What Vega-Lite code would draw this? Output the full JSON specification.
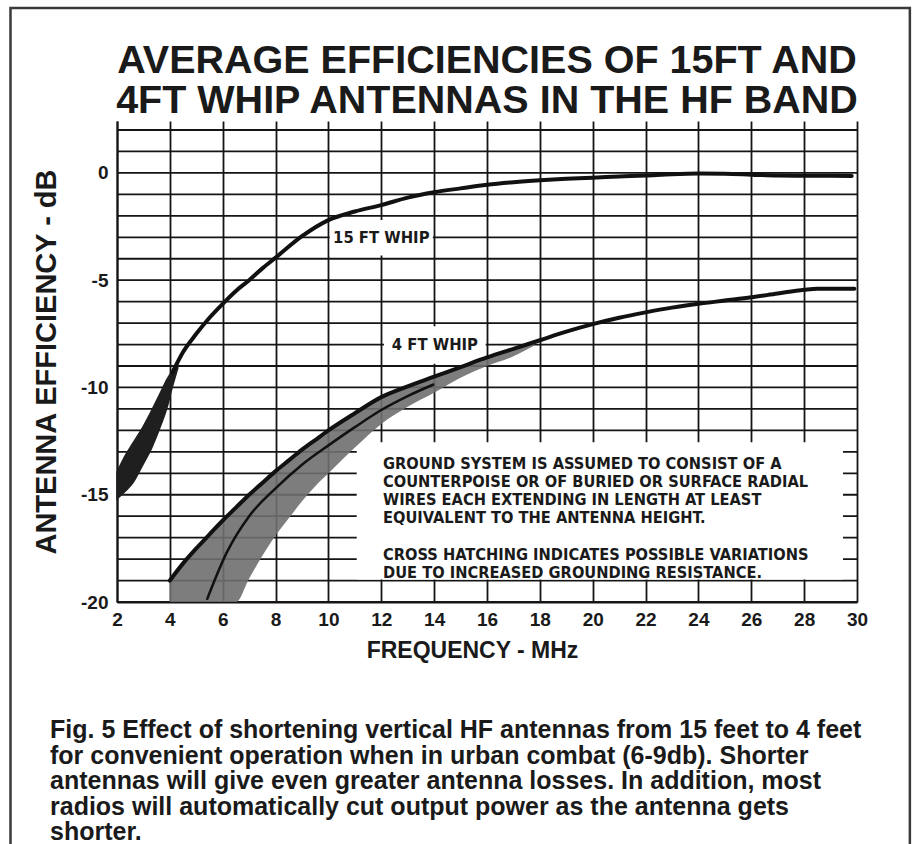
{
  "$schema": "https://vega.github.io/schema/vega-lite/v6.json",
  "width": 740,
  "height": 481,
  "autosize": "none",
  "padding": {"left": 117, "top": 121, "right": 61, "bottom": 242},
  "background": "white",
  "config": {"view": {"stroke": null}, "font": "Liberation Sans"},
  "data": {"values": [{"k": 1}]},
  "datasets": {
    "hgrid": [
      {"g": -20}, {"g": -19}, {"g": -18}, {"g": -17}, {"g": -16}, {"g": -15}, {"g": -14},
      {"g": -13}, {"g": -12}, {"g": -11}, {"g": -10}, {"g": -9}, {"g": -8}, {"g": -7},
      {"g": -6}, {"g": -5}, {"g": -4}, {"g": -3}, {"g": -2}, {"g": -1}, {"g": 0}, {"g": 1}, {"g": 2}
    ],
    "band15": [
      {"f": 2.0, "hi": -13.95, "lo": -15.2},
      {"f": 2.3, "hi": -13.2, "lo": -14.85},
      {"f": 2.6, "hi": -12.6, "lo": -14.45},
      {"f": 3.0, "hi": -11.8, "lo": -13.55},
      {"f": 3.3, "hi": -11.1, "lo": -12.85},
      {"f": 3.6, "hi": -10.35, "lo": -11.95},
      {"f": 3.9, "hi": -9.6, "lo": -10.9},
      {"f": 4.1, "hi": -9.2, "lo": -9.95},
      {"f": 4.3, "hi": -8.8, "lo": -9.1}
    ],
    "band4": [
      {"f": 4.0, "hi": -19.0, "lo": -20.0},
      {"f": 4.5, "hi": -18.2, "lo": -20.0},
      {"f": 5.0, "hi": -17.5, "lo": -20.0},
      {"f": 5.5, "hi": -16.85, "lo": -20.0},
      {"f": 6.0, "hi": -16.2, "lo": -20.0},
      {"f": 6.5, "hi": -15.6, "lo": -20.0},
      {"f": 7.0, "hi": -15.0, "lo": -18.9},
      {"f": 7.5, "hi": -14.45, "lo": -17.85},
      {"f": 8.0, "hi": -13.9, "lo": -16.9},
      {"f": 8.5, "hi": -13.4, "lo": -16.1},
      {"f": 9.0, "hi": -12.9, "lo": -15.3},
      {"f": 9.5, "hi": -12.45, "lo": -14.6},
      {"f": 10.0, "hi": -12.0, "lo": -14.0},
      {"f": 11.0, "hi": -11.2, "lo": -12.8},
      {"f": 12.0, "hi": -10.45, "lo": -11.7},
      {"f": 13.0, "hi": -9.95, "lo": -10.9},
      {"f": 14.0, "hi": -9.5, "lo": -10.25},
      {"f": 15.0, "hi": -9.05, "lo": -9.55},
      {"f": 16.0, "hi": -8.6, "lo": -9.0},
      {"f": 17.0, "hi": -8.2, "lo": -8.55},
      {"f": 17.8, "hi": -7.9, "lo": -8.05}
    ],
    "curves": [
      {"series": "15 FT WHIP", "f": 4.1, "db": -9.3},
      {"series": "15 FT WHIP", "f": 4.5, "db": -8.35},
      {"series": "15 FT WHIP", "f": 5.0, "db": -7.5},
      {"series": "15 FT WHIP", "f": 5.5, "db": -6.75},
      {"series": "15 FT WHIP", "f": 6.0, "db": -6.1},
      {"series": "15 FT WHIP", "f": 6.5, "db": -5.5},
      {"series": "15 FT WHIP", "f": 7.0, "db": -5.0},
      {"series": "15 FT WHIP", "f": 7.5, "db": -4.45},
      {"series": "15 FT WHIP", "f": 8.0, "db": -3.95},
      {"series": "15 FT WHIP", "f": 9.0, "db": -2.95},
      {"series": "15 FT WHIP", "f": 10.0, "db": -2.2},
      {"series": "15 FT WHIP", "f": 11.0, "db": -1.8},
      {"series": "15 FT WHIP", "f": 12.0, "db": -1.5},
      {"series": "15 FT WHIP", "f": 13.0, "db": -1.15},
      {"series": "15 FT WHIP", "f": 14.0, "db": -0.9},
      {"series": "15 FT WHIP", "f": 15.0, "db": -0.72},
      {"series": "15 FT WHIP", "f": 16.0, "db": -0.55},
      {"series": "15 FT WHIP", "f": 17.0, "db": -0.43},
      {"series": "15 FT WHIP", "f": 18.0, "db": -0.34},
      {"series": "15 FT WHIP", "f": 19.0, "db": -0.27},
      {"series": "15 FT WHIP", "f": 20.0, "db": -0.22},
      {"series": "15 FT WHIP", "f": 21.0, "db": -0.17},
      {"series": "15 FT WHIP", "f": 22.0, "db": -0.12},
      {"series": "15 FT WHIP", "f": 23.0, "db": -0.06},
      {"series": "15 FT WHIP", "f": 24.0, "db": -0.03},
      {"series": "15 FT WHIP", "f": 25.0, "db": -0.04},
      {"series": "15 FT WHIP", "f": 26.0, "db": -0.08},
      {"series": "15 FT WHIP", "f": 27.0, "db": -0.12},
      {"series": "15 FT WHIP", "f": 28.0, "db": -0.13},
      {"series": "15 FT WHIP", "f": 29.0, "db": -0.13},
      {"series": "15 FT WHIP", "f": 29.8, "db": -0.14},
      {"series": "4 FT WHIP", "f": 4.0, "db": -19.0},
      {"series": "4 FT WHIP", "f": 4.5, "db": -18.2},
      {"series": "4 FT WHIP", "f": 5.0, "db": -17.5},
      {"series": "4 FT WHIP", "f": 5.5, "db": -16.85},
      {"series": "4 FT WHIP", "f": 6.0, "db": -16.2},
      {"series": "4 FT WHIP", "f": 6.5, "db": -15.6},
      {"series": "4 FT WHIP", "f": 7.0, "db": -15.0},
      {"series": "4 FT WHIP", "f": 7.5, "db": -14.45},
      {"series": "4 FT WHIP", "f": 8.0, "db": -13.9},
      {"series": "4 FT WHIP", "f": 8.5, "db": -13.4},
      {"series": "4 FT WHIP", "f": 9.0, "db": -12.9},
      {"series": "4 FT WHIP", "f": 9.5, "db": -12.45},
      {"series": "4 FT WHIP", "f": 10.0, "db": -12.0},
      {"series": "4 FT WHIP", "f": 11.0, "db": -11.2},
      {"series": "4 FT WHIP", "f": 12.0, "db": -10.45},
      {"series": "4 FT WHIP", "f": 13.0, "db": -9.95},
      {"series": "4 FT WHIP", "f": 14.0, "db": -9.5},
      {"series": "4 FT WHIP", "f": 15.0, "db": -9.05},
      {"series": "4 FT WHIP", "f": 16.0, "db": -8.6},
      {"series": "4 FT WHIP", "f": 17.0, "db": -8.2},
      {"series": "4 FT WHIP", "f": 18.0, "db": -7.8},
      {"series": "4 FT WHIP", "f": 19.0, "db": -7.4},
      {"series": "4 FT WHIP", "f": 20.0, "db": -7.05},
      {"series": "4 FT WHIP", "f": 21.0, "db": -6.75},
      {"series": "4 FT WHIP", "f": 22.0, "db": -6.5},
      {"series": "4 FT WHIP", "f": 23.0, "db": -6.28},
      {"series": "4 FT WHIP", "f": 24.0, "db": -6.1},
      {"series": "4 FT WHIP", "f": 25.0, "db": -5.95},
      {"series": "4 FT WHIP", "f": 26.0, "db": -5.8},
      {"series": "4 FT WHIP", "f": 27.0, "db": -5.62},
      {"series": "4 FT WHIP", "f": 28.0, "db": -5.45},
      {"series": "4 FT WHIP", "f": 28.5, "db": -5.4},
      {"series": "4 FT WHIP", "f": 29.9, "db": -5.4},
      {"series": "inner", "f": 5.4, "db": -19.9},
      {"series": "inner", "f": 6.15, "db": -17.7},
      {"series": "inner", "f": 7.0, "db": -16.0},
      {"series": "inner", "f": 8.0, "db": -14.7},
      {"series": "inner", "f": 9.0, "db": -13.6},
      {"series": "inner", "f": 10.0, "db": -12.7},
      {"series": "inner", "f": 11.0, "db": -11.85},
      {"series": "inner", "f": 12.0, "db": -11.05},
      {"series": "inner", "f": 13.0, "db": -10.4},
      {"series": "inner", "f": 14.0, "db": -9.85}
    ],
    "boxes": [
      {"x0": 10.05, "x1": 13.95, "y0": -2.2, "y1": -3.85},
      {"x0": 12.1, "x1": 15.95, "y0": -7.15, "y1": -8.9},
      {"x0": 11.07, "x1": 29.47, "y0": -12.55, "y1": -18.95}
    ],
    "labels": [
      {"f": 12.0, "db": -3.03, "text": "15 FT WHIP"},
      {"f": 14.03, "db": -8.04, "text": "4 FT WHIP"}
    ],
    "note1": [
      {"text": "GROUND SYSTEM IS ASSUMED TO CONSIST OF A\nCOUNTERPOISE OR OF BURIED OR SURFACE RADIAL\nWIRES EACH EXTENDING IN LENGTH AT LEAST\nEQUIVALENT TO THE ANTENNA HEIGHT."}
    ],
    "note2": [
      {"text": "CROSS HATCHING INDICATES POSSIBLE VARIATIONS\nDUE TO INCREASED GROUNDING RESISTANCE."}
    ],
    "heading": [
      {"text": "AVERAGE EFFICIENCIES OF 15FT AND\n4FT WHIP ANTENNAS IN THE HF BAND"}
    ],
    "caption": [
      {"text": "Fig. 5 Effect of shortening vertical HF antennas from 15 feet to 4 feet\nfor convenient operation when in urban combat (6-9db). Shorter\nantennas will give even greater antenna losses. In addition, most\nradios will automatically cut output power as the antenna gets\nshorter."}
    ]
  },
  "layer": [
    {
      "mark": {"type": "rect", "fill": "#ffffff", "fillOpacity": 0, "stroke": "#3a3a3a", "strokeWidth": 2.5, "clip": false},
      "encoding": {
        "x": {
          "datum": -2.03, "type": "quantitative", "title": "FREQUENCY - MHz",
          "scale": {"domain": [2, 30], "nice": false, "zero": false},
          "axis": {
            "values": [2, 4, 6, 8, 10, 12, 14, 16, 18, 20, 22, 24, 26, 28, 30],
            "grid": true, "gridColor": "#151515", "gridWidth": 1.8, "gridOpacity": 1,
            "ticks": false, "domain": true, "domainColor": "#151515", "domainWidth": 2,
            "labelFont": "Liberation Sans", "labelFontWeight": "bold", "labelFontSize": 19,
            "labelColor": "#1a1a1a", "labelPadding": 8, "labelFlush": false, "labelOverlap": false,
            "titleFont": "Liberation Sans", "titleFontWeight": "bold", "titleFontSize": 23,
            "titleColor": "#1a1a1a", "titlePadding": 10, "titleX": 355
          }
        },
        "x2": {"datum": 32.0},
        "y": {
          "datum": 7.69, "type": "quantitative", "title": "ANTENNA EFFICIENCY - dB",
          "scale": {"domain": [-20, 2.42], "nice": false, "zero": false},
          "axis": {
            "values": [-20, -15, -10, -5, 0],
            "grid": false,
            "ticks": false, "domain": true, "domainColor": "#151515", "domainWidth": 2,
            "labelExpr": "'' + datum.value",
            "labelFont": "Liberation Sans", "labelFontWeight": "bold", "labelFontSize": 19,
            "labelColor": "#1a1a1a", "labelPadding": 9, "labelFlush": false, "labelOverlap": false,
            "titleFont": "Liberation Sans", "titleFontWeight": "bold", "titleFontSize": 29,
            "titleColor": "#1a1a1a", "titlePadding": 19
          }
        },
        "y2": {"datum": -32.0}
      }
    },
    {
      "data": {"name": "hgrid"},
      "mark": {"type": "rule", "color": "#151515", "strokeWidth": 1.8},
      "encoding": {
        "y": {"field": "g", "type": "quantitative", "title": "ANTENNA EFFICIENCY - dB"}
      }
    },
    {
      "data": {"name": "boxes"},
      "mark": {"type": "rect", "fill": "#ffffff", "strokeWidth": 0},
      "encoding": {
        "x": {"field": "x0", "type": "quantitative", "title": "FREQUENCY - MHz"},
        "x2": {"field": "x1"},
        "y": {"field": "y0", "type": "quantitative", "title": "ANTENNA EFFICIENCY - dB"},
        "y2": {"field": "y1"}
      }
    },
    {
      "data": {"name": "band4"},
      "mark": {"type": "area", "fill": "#6f6f6f", "fillOpacity": 0.9, "interpolate": "monotone"},
      "encoding": {
        "x": {"field": "f", "type": "quantitative", "title": "FREQUENCY - MHz"},
        "y": {"field": "hi", "type": "quantitative", "title": "ANTENNA EFFICIENCY - dB"},
        "y2": {"field": "lo"}
      }
    },
    {
      "data": {"name": "band15"},
      "mark": {"type": "area", "fill": "#1f1f1f", "stroke": "#1f1f1f", "strokeWidth": 1.5, "interpolate": "monotone"},
      "encoding": {
        "x": {"field": "f", "type": "quantitative", "title": "FREQUENCY - MHz"},
        "y": {"field": "hi", "type": "quantitative", "title": "ANTENNA EFFICIENCY - dB"},
        "y2": {"field": "lo"}
      }
    },
    {
      "data": {"name": "curves"},
      "transform": [{"filter": "datum.series !== 'inner'"}],
      "mark": {"type": "line", "color": "#111111", "strokeWidth": 4, "interpolate": "monotone", "strokeCap": "round"},
      "encoding": {
        "x": {"field": "f", "type": "quantitative", "title": "FREQUENCY - MHz"},
        "y": {"field": "db", "type": "quantitative", "title": "ANTENNA EFFICIENCY - dB"},
        "detail": {"field": "series", "type": "nominal"}
      }
    },
    {
      "data": {"name": "curves"},
      "transform": [{"filter": "datum.series === 'inner'"}],
      "mark": {"type": "line", "color": "#111111", "strokeWidth": 2.5, "interpolate": "monotone"},
      "encoding": {
        "x": {"field": "f", "type": "quantitative", "title": "FREQUENCY - MHz"},
        "y": {"field": "db", "type": "quantitative", "title": "ANTENNA EFFICIENCY - dB"}
      }
    },
    {
      "data": {"name": "labels"},
      "mark": {"type": "text", "font": "DejaVu Sans Condensed, Liberation Sans, sans-serif", "fontWeight": "bold", "fontSize": 16.5, "color": "#1a1a1a", "align": "center", "baseline": "middle"},
      "encoding": {
        "x": {"field": "f", "type": "quantitative", "title": "FREQUENCY - MHz"},
        "y": {"field": "db", "type": "quantitative", "title": "ANTENNA EFFICIENCY - dB"},
        "text": {"field": "text", "type": "nominal"}
      }
    },
    {
      "data": {"name": "note1"},
      "mark": {"type": "text", "font": "DejaVu Sans Condensed, Liberation Sans, sans-serif", "fontWeight": "bold", "fontSize": 16.3, "color": "#1a1a1a", "align": "left", "baseline": "alphabetic", "lineBreak": "\n", "lineHeight": 18},
      "encoding": {
        "x": {"datum": 12.065, "type": "quantitative", "title": "FREQUENCY - MHz"},
        "y": {"datum": -13.82, "type": "quantitative", "title": "ANTENNA EFFICIENCY - dB"},
        "text": {"field": "text", "type": "nominal"}
      }
    },
    {
      "data": {"name": "note2"},
      "mark": {"type": "text", "font": "DejaVu Sans Condensed, Liberation Sans, sans-serif", "fontWeight": "bold", "fontSize": 16.3, "color": "#1a1a1a", "align": "left", "baseline": "alphabetic", "lineBreak": "\n", "lineHeight": 18},
      "encoding": {
        "x": {"datum": 12.065, "type": "quantitative", "title": "FREQUENCY - MHz"},
        "y": {"datum": -18.02, "type": "quantitative", "title": "ANTENNA EFFICIENCY - dB"},
        "text": {"field": "text", "type": "nominal"}
      }
    },
    {
      "data": {"name": "heading"},
      "mark": {"type": "text", "font": "Liberation Sans", "fontWeight": "bold", "fontSize": 39.5, "color": "#1a1a1a", "align": "center", "baseline": "alphabetic", "lineBreak": "\n", "lineHeight": 40, "clip": false},
      "encoding": {
        "x": {"datum": 16.0, "type": "quantitative", "title": "FREQUENCY - MHz"},
        "y": {"datum": 4.657, "type": "quantitative", "title": "ANTENNA EFFICIENCY - dB"},
        "text": {"field": "text", "type": "nominal"}
      }
    },
    {
      "data": {"name": "caption"},
      "mark": {"type": "text", "font": "Liberation Sans", "fontWeight": "bold", "fontSize": 25, "color": "#1a1a1a", "align": "left", "baseline": "alphabetic", "lineBreak": "\n", "lineHeight": 25.5, "clip": false},
      "encoding": {
        "x": {"datum": -0.535, "type": "quantitative", "title": "FREQUENCY - MHz"},
        "y": {"datum": -26.34, "type": "quantitative", "title": "ANTENNA EFFICIENCY - dB"},
        "text": {"field": "text", "type": "nominal"}
      }
    }
  ]
}
